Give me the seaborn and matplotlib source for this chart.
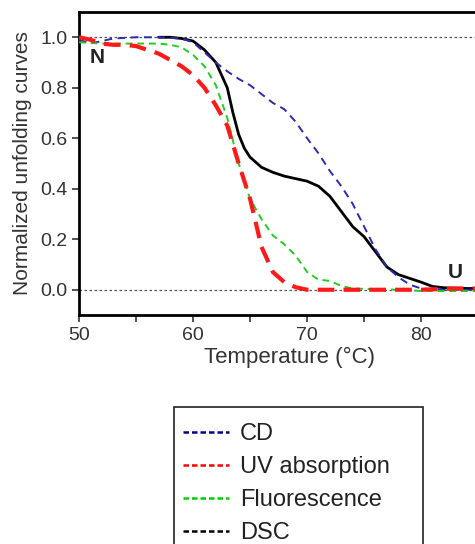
import matplotlib
matplotlib.use("Agg")
import matplotlib.pyplot as plt
from matplotlib.lines import Line2D
from matplotlib.patches import Rectangle
from matplotlib.ticker import MultipleLocator
import seaborn as sns
import pandas as pd

# ---------------- data ----------------
cd_T = [50, 51, 52, 53, 55, 57, 59, 60, 61, 62, 63, 64, 65, 66, 67, 68, 69, 70, 71,
        72, 73, 74, 75, 76, 77, 78, 79, 80, 82, 85, 87]
cd_v = [0.99, 0.975, 0.985, 0.995, 1.0, 1.0, 0.995, 0.98, 0.94, 0.90, 0.865, 0.835,
        0.81, 0.775, 0.74, 0.715, 0.665, 0.60, 0.54, 0.47, 0.41, 0.34, 0.25, 0.16,
        0.09, 0.05, 0.02, 0.005, 0.0, 0.0, 0.0]

uv_T = [50, 51, 52, 53, 54, 55, 56, 57, 58, 59, 60, 61, 62, 63, 64, 65, 66, 67, 68,
        69, 70, 72, 75, 80, 83, 87]
uv_v = [1.0, 0.99, 0.975, 0.97, 0.97, 0.965, 0.95, 0.935, 0.91, 0.885, 0.85, 0.80,
        0.73, 0.65, 0.50, 0.36, 0.17, 0.07, 0.03, 0.01, 0.0, 0.0, 0.0, 0.0, 0.005, 0.005]

fl_T = [50, 52, 54, 56, 57, 58, 59, 60, 61, 62, 63, 64, 65, 66, 67, 68, 69, 70, 71,
        72, 73, 74, 76, 78, 80, 83, 87]
fl_v = [0.98, 0.975, 0.975, 0.975, 0.975, 0.97, 0.96, 0.93, 0.885, 0.81, 0.68, 0.50,
        0.36, 0.28, 0.215, 0.18, 0.135, 0.07, 0.04, 0.035, 0.015, 0.005, 0.002, 0.0,
        -0.005, -0.005, -0.005]

dsc_T = [57, 58, 59, 60, 61, 62, 63, 63.5, 64, 64.5, 65, 66, 67, 68, 69, 70, 71, 72,
         73, 74, 75, 76, 77, 78, 79, 80, 81, 82, 84, 87]
dsc_v = [1.0, 1.0, 0.995, 0.985, 0.95, 0.90, 0.80, 0.70, 0.615, 0.56, 0.525, 0.485,
         0.465, 0.45, 0.44, 0.43, 0.41, 0.37, 0.31, 0.25, 0.21, 0.15, 0.09, 0.06,
         0.045, 0.03, 0.013, 0.008, 0.005, 0.005]

series_names = ["CD", "UV absorption", "Fluorescence", "DSC"]
x_ticks = [50, 60, 70, 80]
y_ticks = [0.0, 0.2, 0.4, 0.6, 0.8, 1.0]

# ---------------- style ----------------
sns.set_style("ticks")
plt.rcParams["font.family"] = ["Liberation Sans", "DejaVu Sans"]
plt.rcParams["text.color"] = "#222222"

fig = plt.figure(figsize=(4.75, 5.44), dpi=100)
ax = fig.add_axes([79 / 475, 229 / 544, 422 / 475, 303 / 544])

cd_df = pd.DataFrame({"T": cd_T, "v": cd_v})
uv_df = pd.DataFrame({"T": uv_T, "v": uv_v})
fl_df = pd.DataFrame({"T": fl_T, "v": fl_v})
dsc_df = pd.DataFrame({"T": dsc_T, "v": dsc_v})

ax.axhline(1.0, color="#555555", lw=0.9, ls=(0, (2, 2)), zorder=1)
ax.axhline(0.0, color="#555555", lw=0.9, ls=(0, (2, 2)), zorder=1)

sns.lineplot(data=dsc_df, x="T", y="v", ax=ax, color="black", lw=2.0, zorder=3)
sns.lineplot(data=cd_df, x="T", y="v", ax=ax, color="#2b2bb0", lw=1.4, zorder=4)
ax.lines[-1].set_dashes((4, 2.8))
sns.lineplot(data=fl_df, x="T", y="v", ax=ax, color="#22cc22", lw=1.4, zorder=4)
ax.lines[-1].set_dashes((3.5, 2.5))
sns.lineplot(data=uv_df, x="T", y="v", ax=ax, color="#ff1a1a", lw=3.0, zorder=5)
ax.lines[-1].set_dashes((4, 2.2))

ax.set_xlim(50, 87)
ax.set_ylim(-0.1, 1.1)
ax.set_xticks(x_ticks)
ax.xaxis.set_minor_locator(MultipleLocator(5))
ax.set_yticks(y_ticks)
ax.set_yticklabels([f"{t:.1f}" for t in y_ticks])
ax.tick_params(axis="both", which="both", direction="out", length=5, width=1.2,
               labelsize=14, colors="#333333")

for s in ["left", "bottom", "top"]:
    ax.spines[s].set_linewidth(2.0)
    ax.spines[s].set_color("black")
ax.spines["right"].set_visible(False)

ax.set_xlabel("Temperature (°C)", fontsize=16, color="#333333", labelpad=2)
ax.set_ylabel("Normalized unfolding curves", fontsize=15, color="#333333", labelpad=6)

ax.text(51.6, 0.92, "N", fontsize=15, fontweight="bold", ha="center", va="center",
        color="#222222")
ax.text(83.0, 0.07, "U", fontsize=15, fontweight="bold", ha="center", va="center",
        color="#222222")

# legend box (runs off the bottom of the figure, as in the reference)
fig.patches.append(Rectangle((174 / 475, -0.05), 249 / 475, 1 - 407 / 544 + 0.05,
                             transform=fig.transFigure, fill=False,
                             edgecolor="#333333", lw=1.3, zorder=0))

handles = [
    Line2D([], [], color="#00008b", lw=1.8, ls=(0, (2.2, 1.2))),
    Line2D([], [], color="#ff0000", lw=1.8, ls=(0, (2.2, 1.2))),
    Line2D([], [], color="#00cc00", lw=1.8, ls=(0, (2.2, 1.2))),
    Line2D([], [], color="#000000", lw=1.8, ls=(0, (2.2, 1.2))),
]
leg = fig.legend(handles, series_names, loc="upper left",
                 bbox_to_anchor=(183 / 475, 1 - 423 / 544),
                 frameon=False, fontsize=17,
                 handlelength=1.95, handletextpad=0.45, labelspacing=0.47,
                 borderpad=0.0, borderaxespad=0.0)
for t in leg.get_texts():
    t.set_color("#222222")

fig.savefig("out.png", dpi=100)
